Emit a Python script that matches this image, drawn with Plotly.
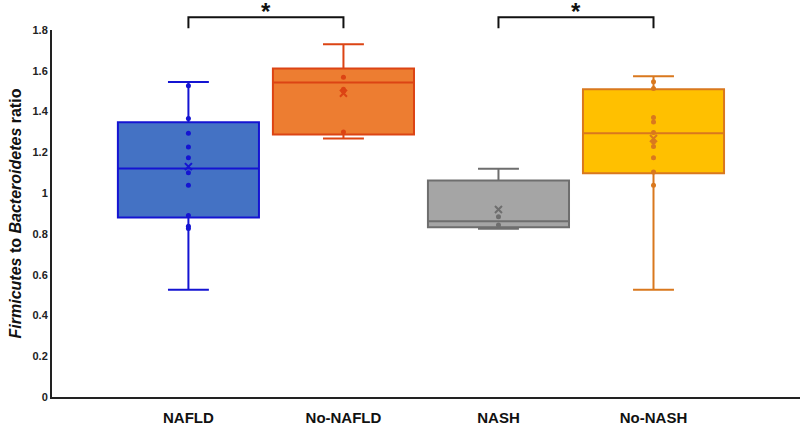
import plotly.graph_objects as go

groups = ["NAFLD", "No-NAFLD", "NASH", "No-NASH"]
q1 = [0.880, 1.287, 0.833, 1.098]
median = [1.121, 1.543, 0.862, 1.294]
q3 = [1.348, 1.611, 1.062, 1.510]
lowerfence = [0.526, 1.268, 0.825, 0.526]
upperfence = [1.545, 1.730, 1.120, 1.573]
means = [1.130, 1.490, 0.920, 1.268]

points = [
    [1.526, 1.366, 1.294, 1.226, 1.174, 1.100, 1.038, 0.890, 0.838, 0.826],
    [1.568, 1.510, 1.500, 1.300],
    [0.884, 0.843],
    [1.546, 1.513, 1.371, 1.349, 1.297, 1.251, 1.228, 1.174, 1.103, 1.038],
]

fills = ["#4472c4", "#ed7d31", "#a5a5a5", "#ffc000"]
lines = ["#1414d2", "#dc4414", "#6e6e6e", "#d9781e"]

sig_pairs = [(0, 1), (2, 3)]

fig = go.Figure()
for i, g in enumerate(groups):
    fig.add_trace(go.Box(
        x=[g], q1=[q1[i]], median=[median[i]], q3=[q3[i]],
        lowerfence=[lowerfence[i]], upperfence=[upperfence[i]],
        fillcolor=fills[i], line=dict(color=lines[i], width=2),
        width=0.91, whiskerwidth=0.29, boxpoints=False,
        showlegend=False, hoverinfo="skip",
    ))
    fig.add_trace(go.Scatter(
        x=[g] * len(points[i]), y=points[i], mode="markers",
        marker=dict(color=lines[i], size=5), showlegend=False,
    ))
    fig.add_trace(go.Scatter(
        x=[g], y=[means[i]], mode="markers",
        marker=dict(color=lines[i], size=7, symbol="x-thin",
                    line=dict(color=lines[i], width=2)),
        showlegend=False,
    ))

shapes = []
annotations = []
for a, b in sig_pairs:
    shapes.append(dict(type="path", xref="x", yref="paper",
                       path=f"M {a},1.005 L {a},1.035 L {b},1.035 L {b},1.005",
                       line=dict(color="#111111", width=2)))
    annotations.append(dict(x=(a + b) / 2, y=1.092, xref="x", yref="paper",
                            text="<b>*</b>", showarrow=False,
                            font=dict(size=24, color="#111111", family="Liberation Sans")))

fig.update_layout(
    width=800, height=427,
    margin=dict(l=52, r=0, t=30, b=30),
    paper_bgcolor="white", plot_bgcolor="white",
    shapes=shapes, annotations=annotations,
    xaxis=dict(type="category", categoryorder="array", categoryarray=groups,
               range=[-0.88, 3.945], showline=True, linecolor="#222222", linewidth=2,
               showgrid=False, zeroline=False, ticks="",
               tickfont=dict(family="Liberation Sans", size=15, color="#111111", weight="bold"),
               ticklabelstandoff=6),
    yaxis=dict(range=[0, 1.8], dtick=0.2, tick0=0, showline=True, linecolor="#222222",
               linewidth=2, showgrid=False, zeroline=False, ticks="",
               tickfont=dict(family="Liberation Sans", size=11, color="#222222", weight="bold"),
               title=dict(text="<i>Firmicutes</i> to <i>Bacteroidetes</i> ratio",
                          font=dict(family="Liberation Sans", size=16, color="#111111", weight="bold"),
                          standoff=7)),
)

fig.write_html("out.html", config={"displayModeBar": False},
               post_script="document.body.style.margin='0';")
